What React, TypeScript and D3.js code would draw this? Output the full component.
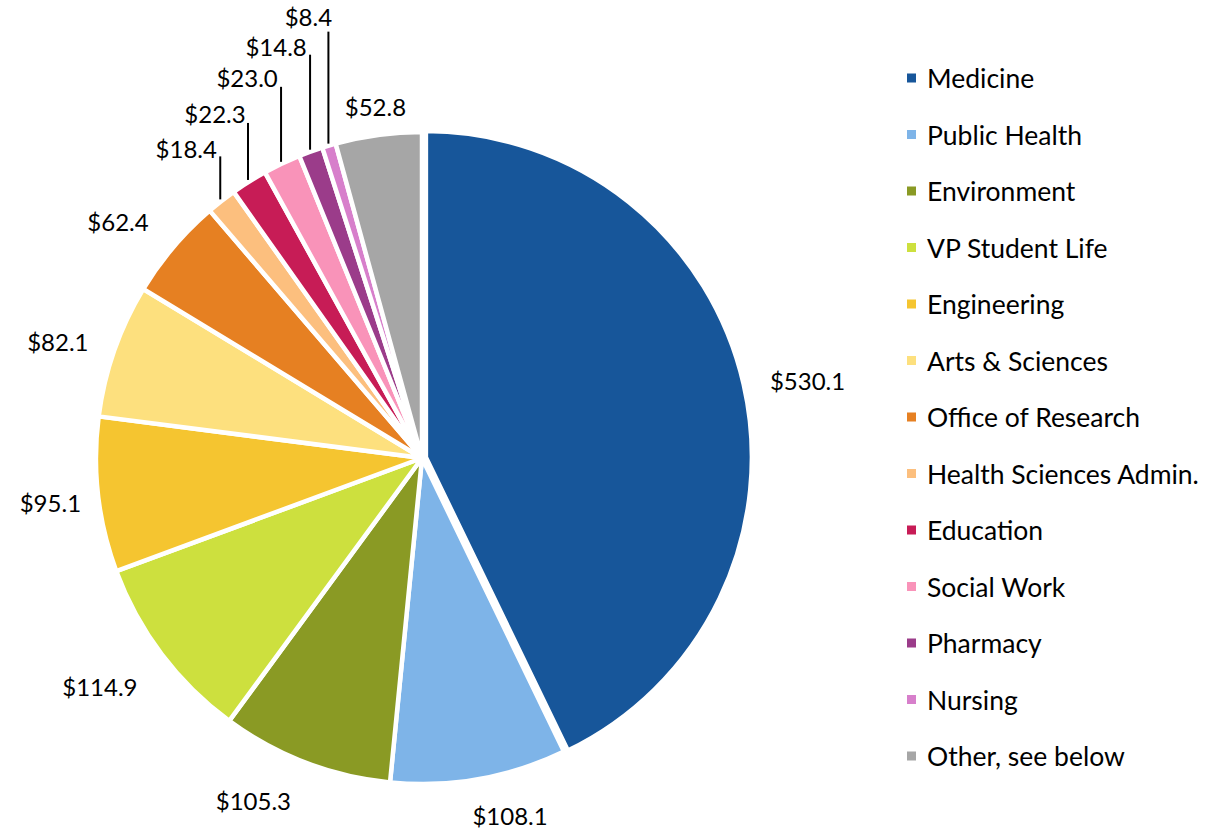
import React, { useRef, useEffect } from 'react';
import * as d3 from 'd3';

const categories = [
  'Medicine', 'Public Health', 'Environment', 'VP Student Life', 'Engineering',
  'Arts & Sciences', 'Office of Research', 'Health Sciences Admin.', 'Education',
  'Social Work', 'Pharmacy', 'Nursing', 'Other, see below',
];
const values = [530.1, 108.1, 105.3, 114.9, 95.1, 82.1, 62.4, 18.4, 22.3, 23.0, 14.8, 8.4, 52.8];
const colors = [
  '#17569a', '#7eb4e8', '#8a9a24', '#cde03e', '#f5c530', '#fde07e', '#e68022',
  '#fcbf7e', '#c71c56', '#f993b9', '#9b3c8a', '#d77fcb', '#a6a6a6',
];

// label nudges for the bigger slices (px, from a point just outside the arc)
const labelNudge: ([number, number] | null)[] = [
  [20, 6], [23, -8], [-36, -4], [-26, 5], [-3, 3], [-14, 6], [-21, 3],
  null, null, null, null, null, [3, 16],
];
// leader line length and label offset for the thin slices at the top
const leaderLength = [0, 0, 0, 0, 0, 0, 0, 43, 57, 75, 95, 112, 0];
const leaderLabelOffset: [number, number][] = [
  [0, 0], [0, 0], [0, 0], [0, 0], [0, 0], [0, 0], [0, 0],
  [-34, -8], [-33, -9], [-34, -9], [-34, -8], [-20, -15], [0, 0],
];

const WIDTH = 1218;
const HEIGHT = 831;
const FONT = 'Lato, "Open Sans", sans-serif';

const PieChartD3 = () => {
  const svgRef = useRef<SVGSVGElement>(null);

  useEffect(() => {
    const svg = d3.select(svgRef.current);
    svg.selectAll('*').remove();

    const cx = 422;
    const cy = 458;
    const radius = 326;

    const data = categories.map((name, i) => ({ name, value: values[i], color: colors[i], i }));

    const pie = d3.pie<any>().sort(null).value(d => d.value);
    const arcs = pie(data);

    const arc = d3.arc<any>().innerRadius(0).outerRadius(radius);

    const g = svg.append('g').attr('transform', `translate(${cx},${cy})`);

    // slices (Medicine pulled out a little)
    g.selectAll('path.slice')
      .data(arcs)
      .join('path')
      .attr('class', 'slice')
      .attr('d', arc)
      .attr('fill', d => d.data.color)
      .attr('stroke', '#fff')
      .attr('stroke-width', 4.5)
      .attr('stroke-linejoin', 'round')
      .attr('transform', d => {
        if (d.index !== 0) return null;
        const mid = (d.startAngle + d.endAngle) / 2;
        return `translate(${4 * Math.sin(mid)},${-4 * Math.cos(mid)})`;
      });

    // labels
    arcs.forEach(d => {
      const i = d.index;
      const mid = (d.startAngle + d.endAngle) / 2;
      const text = `$${d3.format('.1f')(d.data.value)}`;
      if (leaderLength[i] > 0) {
        const x0 = (radius + 2) * Math.sin(mid);
        const y0 = -(radius + 2) * Math.cos(mid);
        const y1 = y0 - leaderLength[i];
        g.append('line')
          .attr('x1', x0).attr('y1', y0)
          .attr('x2', x0).attr('y2', y1)
          .attr('stroke', '#000')
          .attr('stroke-width', 2);
        g.append('text')
          .attr('x', x0 + leaderLabelOffset[i][0])
          .attr('y', y1 + leaderLabelOffset[i][1])
          .attr('text-anchor', 'middle')
          .attr('dominant-baseline', 'central')
          .style('font-family', FONT)
          .style('font-size', '24px')
          .style('fill', '#000')
          .text(text);
      } else {
        const nudge = labelNudge[i] || [0, 0];
        const shift = i === 0 ? 4 : 0;
        const r = radius + 45 + shift;
        g.append('text')
          .attr('x', r * Math.sin(mid) + nudge[0])
          .attr('y', -r * Math.cos(mid) + nudge[1])
          .attr('text-anchor', 'middle')
          .attr('dominant-baseline', 'central')
          .style('font-family', FONT)
          .style('font-size', '24px')
          .style('fill', '#000')
          .text(text);
      }
    });

    // legend
    const legendY = d3.scalePoint<string>()
      .domain(categories)
      .range([78, 756]);

    const legend = svg.append('g');
    categories.forEach((name, i) => {
      legend.append('rect')
        .attr('x', 907)
        .attr('y', legendY(name)! - 4.5)
        .attr('width', 9)
        .attr('height', 9)
        .attr('fill', colors[i]);
      legend.append('text')
        .attr('x', 927)
        .attr('y', legendY(name)!)
        .attr('dominant-baseline', 'central')
        .style('font-family', FONT)
        .style('font-size', '26.5px')
        .style('fill', '#000')
        .text(name);
    });
  }, []);

  return (
    <svg
      ref={svgRef}
      width={WIDTH}
      height={HEIGHT}
      style={{ position: 'absolute', left: 0, top: 0, background: '#fff' }}
    ></svg>
  );
};

export default function App() {
  return <PieChartD3 />;
}
